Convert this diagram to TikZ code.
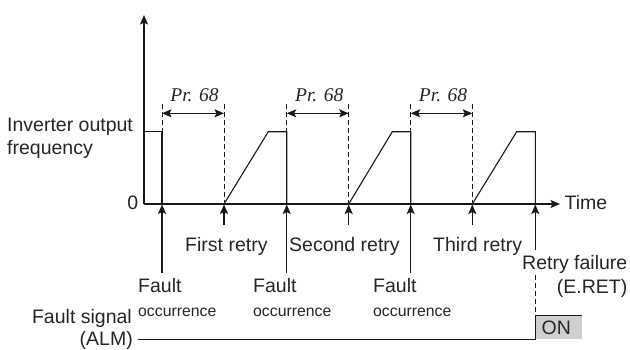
\documentclass[tikz,border=0pt]{standalone}
\usepackage{fontspec}
\setmainfont{Liberation Sans}
\newfontfamily\tmsfont{Liberation Serif}
\usetikzlibrary{arrows.meta}
\begin{document}
\begin{tikzpicture}[x=1pt,y=-1pt,
  lbl/.style={inner sep=0pt,text=black!85,font=\fontsize{19.5}{23}\selectfont},
  small/.style={inner sep=0pt,text=black!85,font=\fontsize{15.8}{19}\selectfont},
  prlbl/.style={inner sep=0pt,text=black!85,font=\tmsfont\itshape\fontsize{19.5}{23}\selectfont},
  wave/.style={draw=black!90,line width=1.1pt},
  axis/.style={draw=black!90,line width=1.1pt,-{Stealth[length=9.5pt,width=8pt,inset=2pt]}},
  uparrow/.style={draw=black!90,line width=1.1pt,-{Stealth[length=9.5pt,width=8pt,inset=2pt]}},
  dimarrow/.style={draw=black!90,line width=1.1pt,{Stealth[length=9.5pt,width=8pt,inset=2pt]}-{Stealth[length=9.5pt,width=8pt,inset=2pt]}},
  guide/.style={draw=black!90,line width=0.7pt,dash pattern=on 5pt off 3pt},
  onbox/.style={fill=black!19,draw=none}
]
\useasboundingbox (0,0) rectangle (630,349);
% key coordinates
\coordinate (O) at (144,204);
\coordinate (Ytip) at (144,15);
\coordinate (Xtip) at (560,204);
\def\hy{131.7}
\def\ay{113.3}
% event x positions
\coordinate (f1) at (162,204);
\coordinate (r1) at (224,204);
\coordinate (f2) at (286.7,204);
\coordinate (r2) at (348.7,204);
\coordinate (f3) at (410.7,204);
\coordinate (r3) at (472.3,204);
\coordinate (f4) at (535.3,204);
% guides (dashed)
\foreach \p in {f1,r1,f2,r2,f3,r3}{
  \path (\p) ++(0,-100) coordinate (\p top);
  \draw[guide] (\p top) -- (\p);
}
% axes
\draw[axis] (O) -- (Ytip);
\draw[axis] (O) -- (Xtip);
% waveform
\draw[wave] (144,\hy) -- (162,\hy) -- (f1);
\draw[wave] (r1) -- (268.3,\hy) -- (286.7,\hy) -- (f2);
\draw[wave] (r2) -- (392.3,\hy) -- (410.7,\hy) -- (f3);
\draw[wave] (r3) -- (516.7,\hy) -- (535.3,\hy) -- (f4);
% Pr. 68 dimension arrows
\draw[dimarrow] (162,\ay) -- (224,\ay);
\draw[dimarrow] (286.7,\ay) -- (348.7,\ay);
\draw[dimarrow] (410.7,\ay) -- (472.3,\ay);
\node[prlbl,anchor=base] (pr1) at (194.5,101.7) {Pr. 68};
\node[prlbl,anchor=base] (pr2) at (319.2,101.7) {Pr. 68};
\node[prlbl,anchor=base] (pr3) at (443,101.7) {Pr. 68};
% event arrows
\coordinate (a1) at (162,273);
\coordinate (b1) at (224,225);
\coordinate (a2) at (286.7,273);
\coordinate (b2) at (348.7,225);
\coordinate (a3) at (410.7,273);
\coordinate (b3) at (472.3,225);
\coordinate (a4) at (535.3,250);
\draw[uparrow] (a1) -- ([yshift=-0.5]f1);
\draw[uparrow] (b1) -- ([yshift=-0.5]r1);
\draw[uparrow] (a2) -- ([yshift=-0.5]f2);
\draw[uparrow] (b2) -- ([yshift=-0.5]r2);
\draw[uparrow] (a3) -- ([yshift=-0.5]f3);
\draw[uparrow] (b3) -- ([yshift=-0.5]r3);
\draw[uparrow] (a4) -- ([yshift=-0.5]f4);
% axis labels
\node[lbl,anchor=base west] (inv1) at (7,131) {Inverter output};
\node[lbl,anchor=base west] (inv2) at (7,154) {frequency};
\node[lbl,anchor=base east] (zero) at (138.5,209.5) {0};
\node[lbl,anchor=base west] (time) at (564.5,209.5) {Time};
% retry labels
\node[lbl,anchor=base west] (lr1) at (185,251) {First retry};
\node[lbl,anchor=base west] (lr2) at (289,251) {Second retry};
\node[lbl,anchor=base west] (lr3) at (433,251) {Third retry};
\node[lbl,anchor=base east] (lrf) at (627.5,269.3) {Retry failure};
\node[lbl,anchor=base east] (lre) at (627.5,293) {(E.RET)};
% fault labels
\node[lbl,anchor=base west] (fa1) at (138,292.5) {Fault};
\node[small,anchor=base west] (fo1) at (138,316.5) {occurrence};
\node[lbl,anchor=base west] (fa2) at (253,292.5) {Fault};
\node[small,anchor=base west] (fo2) at (253,316.5) {occurrence};
\node[lbl,anchor=base west] (fa3) at (373,292.5) {Fault};
\node[small,anchor=base west] (fo3) at (373,316.5) {occurrence};
% fault signal
\node[lbl,anchor=base east] (fs1) at (132,323.3) {Fault signal};
\node[lbl,anchor=base east] (fs2) at (133,345) {(ALM)};
\fill[onbox] (535.3,315.7) rectangle (582.3,339.3);
\coordinate (s0) at (138,339.3);
\coordinate (s1) at (535.3,339.3);
\coordinate (s2) at (535.3,315.7);
\coordinate (s3) at (582.3,315.7);
\draw[wave] (s0) -- (s1) -- (s2) -- (s3);
\coordinate (d0) at (535.3,275);
\draw[guide] (d0) -- (s2);
\node[lbl,anchor=base west] (on) at (541.5,334) {ON};
\end{tikzpicture}
\end{document}
